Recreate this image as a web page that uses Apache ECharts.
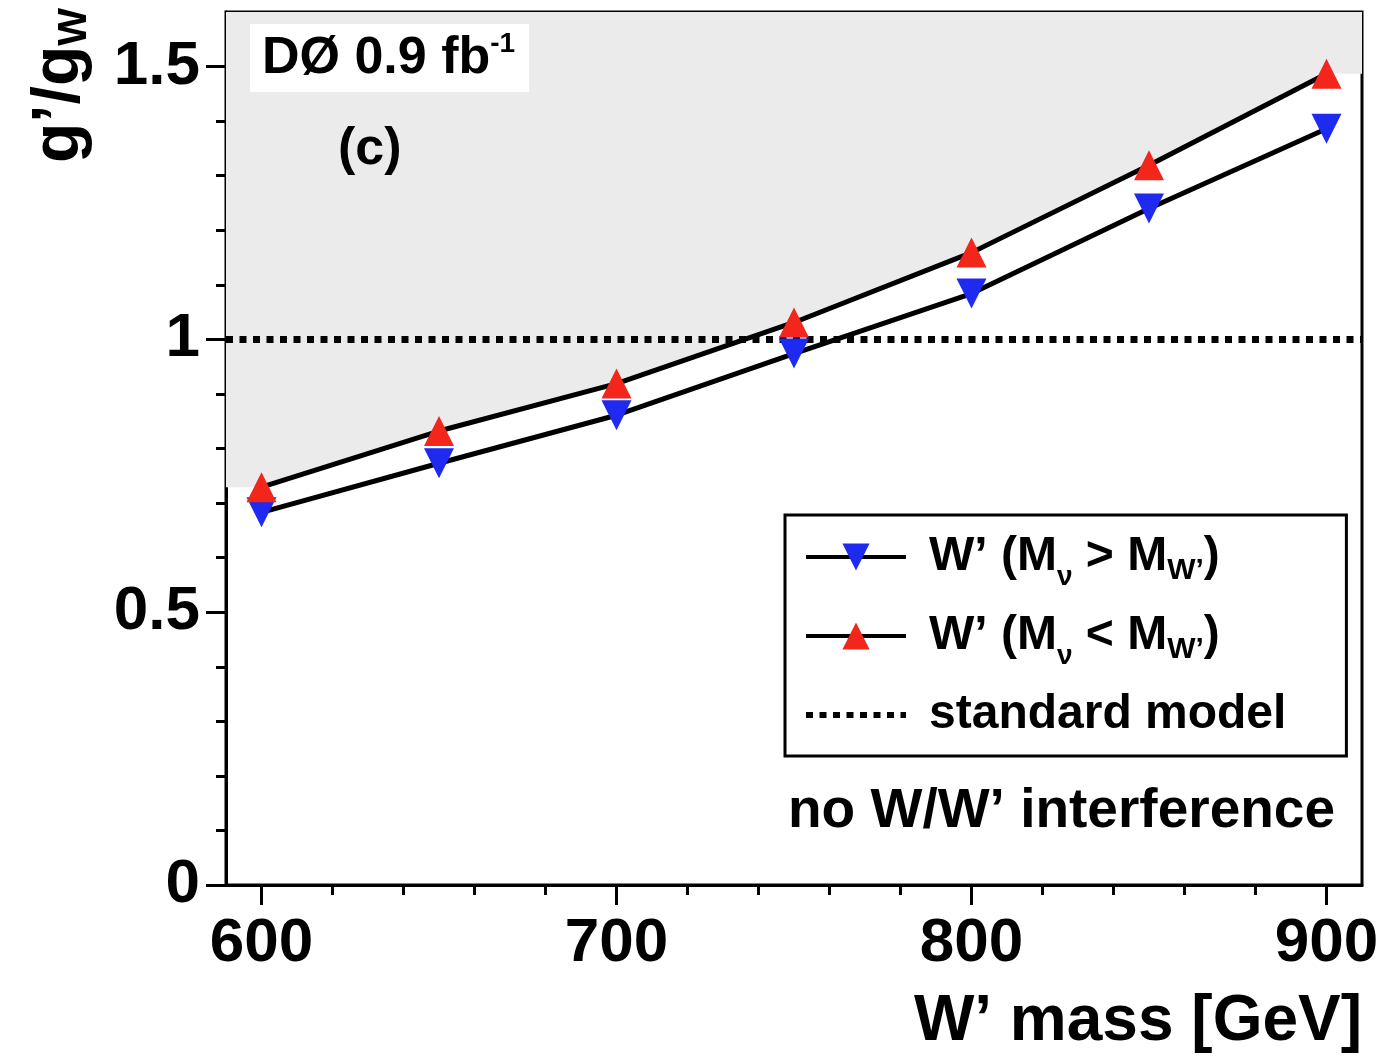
<!DOCTYPE html>
<html>
<head>
<meta charset="utf-8">
<script src="https://cdn.jsdelivr.net/npm/echarts@6/dist/echarts.min.js"></script>
<style>
  html, body { margin: 0; padding: 0; background: #fff; }
  #chart { width: 1382px; height: 1058px; }
</style>
</head>
<body>
<div id="chart"></div>
<script>
// W' mass points [GeV]
const masses = [600, 650, 700, 750, 800, 850, 900];
// g'/gW limit, heavy neutrino (M_nu > M_W')
const limitHeavyNu = [0.683, 0.773, 0.861, 0.974, 1.084, 1.240, 1.386];
// g'/gW limit, light neutrino (M_nu < M_W')
const limitLightNu = [0.729, 0.832, 0.919, 1.031, 1.159, 1.319, 1.487];
const smCoupling = 1;

const xRange = [590, 910];
const yRange = [0, 1.6];
const xMajorTicks = [600, 700, 800, 900];
const xMinorTicks = [620, 640, 660, 680, 720, 740, 760, 780, 820, 840, 860, 880];
const yMajorTicks = [0, 0.5, 1, 1.5];
const yMinorTicks = [0.1, 0.2, 0.3, 0.4, 0.6, 0.7, 0.8, 0.9, 1.1, 1.2, 1.3, 1.4];

const FONT = 'Liberation Sans, Arial, Helvetica, sans-serif';
const RED = '#f2261a';
const BLUE = '#1e2af0';
const downTri = 'path://M0,0 L20,0 L10,20 Z';

const pairs = (xs, ys) => xs.map((x, i) => [x, ys[i]]);

// excluded region: above the weaker limit, held flat to the plot edges
const excluded = [[xRange[0], limitLightNu[0]]]
  .concat(pairs(masses, limitLightNu))
  .concat([[xRange[1], limitLightNu[limitLightNu.length - 1]]]);

const chart = echarts.init(document.getElementById('chart'));

const axisBase = {
  type: 'value',
  axisLine: { show: true, onZero: false, lineStyle: { color: '#000', width: 3 } },
  splitLine: { show: false }
};

chart.setOption({
  animation: false,
  grid: {
    left: 226, right: 20, top: 12, bottom: 173,
    show: true, borderColor: '#000', borderWidth: 3, backgroundColor: '#fff'
  },
  xAxis: [
    Object.assign({}, axisBase, {
      min: xRange[0], max: xRange[1],
      axisTick: { customValues: xMajorTicks, length: 20, lineStyle: { color: '#000', width: 3 } },
      axisLabel: {
        customValues: xMajorTicks, margin: 28,
        fontFamily: FONT, fontWeight: 'bold', fontSize: 62, color: '#000'
      }
    }),
    Object.assign({}, axisBase, {
      min: xRange[0], max: xRange[1], position: 'bottom',
      axisLine: { show: false },
      axisTick: { customValues: xMinorTicks, length: 10, lineStyle: { color: '#000', width: 3 } },
      axisLabel: { show: false }
    })
  ],
  yAxis: [
    Object.assign({}, axisBase, {
      min: yRange[0], max: yRange[1],
      axisTick: { customValues: yMajorTicks, length: 20, lineStyle: { color: '#000', width: 3 } },
      axisLabel: {
        customValues: yMajorTicks, margin: 26,
        fontFamily: FONT, fontWeight: 'bold', fontSize: 62, color: '#000'
      }
    }),
    Object.assign({}, axisBase, {
      min: yRange[0], max: yRange[1], position: 'left',
      axisLine: { show: false },
      axisTick: { customValues: yMinorTicks, length: 10, lineStyle: { color: '#000', width: 3 } },
      axisLabel: { show: false }
    })
  ],
  legend: {
    left: 785, top: 515,
    orient: 'vertical',
    backgroundColor: '#fff',
    borderColor: '#000', borderWidth: 3, borderRadius: 0,
    padding: [13, 60, 12, 18],
    itemWidth: 100, itemHeight: 34, itemGap: 16,
    selectedMode: false,
    lineStyle: { width: 4 },
    textStyle: {
      fontFamily: FONT, fontWeight: 'bold', fontSize: 48, color: '#000',
      padding: [0, 0, 0, 18], lineHeight: 58,
      rich: {
        sub: { fontFamily: FONT, fontWeight: 'bold', fontSize: 28, color: '#000', padding: [40, 0, 0, 0] },
        subw: { fontFamily: FONT, fontWeight: 'bold', fontSize: 30, color: '#000', padding: [28, 0, 0, 0] }
      }
    },
    formatter: function (name) {
      if (name === 'heavy') return 'W’ (M{sub|ν} > M{subw|W’})';
      if (name === 'light') return 'W’ (M{sub|ν} < M{subw|W’})';
      return 'standard model';
    },
    data: [
      { name: 'heavy' },
      { name: 'light' },
      { name: 'standard model', itemStyle: { opacity: 0 }, lineStyle: { width: 6 } }
    ]
  },
  series: [
    {
      name: 'excluded',
      type: 'line',
      data: excluded,
      symbol: 'none',
      silent: true,
      z: 1,
      lineStyle: { width: 0 },
      areaStyle: { origin: 'end', color: '#ebebeb', opacity: 1 }
    },
    {
      name: 'standard model',
      type: 'line',
      data: [[xRange[0], smCoupling], [xRange[1], smCoupling]],
      symbol: 'none',
      z: 3,
      lineStyle: { color: '#000', width: 7, type: [7, 6.5], cap: 'butt' }
    },
    {
      name: 'heavy',
      type: 'line',
      data: pairs(masses, limitHeavyNu),
      symbol: downTri,
      symbolSize: [30, 30],
      z: 4,
      lineStyle: { color: '#000', width: 5 },
      itemStyle: { color: BLUE }
    },
    {
      name: 'light',
      type: 'line',
      data: pairs(masses, limitLightNu),
      symbol: 'triangle',
      symbolSize: [30, 30],
      z: 5,
      lineStyle: { color: '#000', width: 5 },
      itemStyle: { color: RED }
    }
  ],
  graphic: [
    {
      type: 'text', left: 250, top: 24, z: 10,
      style: {
        text: 'DØ 0.9 fb{sup|-1}',
        fontFamily: FONT, fontWeight: 'bold', fontSize: 52, fill: '#000',
        backgroundColor: '#fff', padding: [6, 14, 4, 12],
        rich: { sup: { fontFamily: FONT, fontWeight: 'bold', fontSize: 28, fill: '#000', padding: [0, 0, 30, 0] } }
      }
    },
    {
      type: 'text', left: 338, top: 124, z: 10,
      style: { text: '(c)', fontFamily: FONT, fontWeight: 'bold', fontSize: 52, fill: '#000' }
    },
    {
      type: 'text', z: 10,
      x: 1335, y: 812,
      style: {
        text: 'no W/W’ interference', align: 'right', verticalAlign: 'middle',
        fontFamily: FONT, fontWeight: 'bold', fontSize: 55, fill: '#000'
      }
    },
    {
      type: 'text', z: 10,
      x: 1362, y: 1022,
      style: {
        text: 'W’ mass [GeV]', align: 'right', verticalAlign: 'middle',
        fontFamily: FONT, fontWeight: 'bold', fontSize: 64, fill: '#000'
      }
    },
    {
      type: 'text', z: 10,
      x: 60, y: 8, rotation: Math.PI / 2,
      style: {
        text: 'g’/g{sub|W}', align: 'right', verticalAlign: 'middle',
        fontFamily: FONT, fontWeight: 'bold', fontSize: 66, fill: '#000',
        rich: { sub: { fontFamily: FONT, fontWeight: 'bold', fontSize: 40, fill: '#000', padding: [30, 0, 0, 0] } }
      }
    }
  ]
});
</script>
</body>
</html>
